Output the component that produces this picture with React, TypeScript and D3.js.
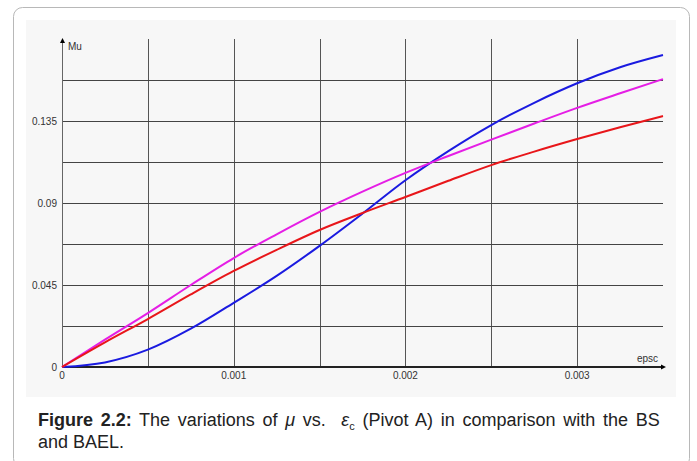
import React from 'react';
import { scaleLinear, line, curveMonotoneX } from 'd3';

const epsc = [0, 0.00025, 0.0005, 0.00075, 0.001, 0.00125, 0.0015, 0.00175, 0.002, 0.00225, 0.0025, 0.00275, 0.003, 0.00325, 0.0035];
const muBlue = [0, 0.0025, 0.0095, 0.021, 0.0352, 0.050, 0.0665, 0.0842, 0.1025, 0.1185, 0.1328, 0.1450, 0.1557, 0.1645, 0.1712];
const muMagenta = [0, 0.0150, 0.0296, 0.0450, 0.0598, 0.0728, 0.0851, 0.0962, 0.1065, 0.1158, 0.1248, 0.1336, 0.1422, 0.1502, 0.158];
const muRed = [0, 0.0135, 0.0263, 0.0398, 0.0527, 0.0643, 0.0752, 0.0845, 0.0933, 0.1022, 0.1108, 0.1182, 0.1251, 0.1316, 0.1377];

const xTicks = [0, 0.001, 0.002, 0.003];
const yTicks = [0, 0.045, 0.09, 0.135];
const xGrid = [0.0005, 0.001, 0.0015, 0.002, 0.0025, 0.003];
const yGrid = [0.0225, 0.045, 0.0675, 0.09, 0.1125, 0.135, 0.1575];

const series = [
  { name: 'blue', values: muBlue, color: '#1a1ae0' },
  { name: 'magenta', values: muMagenta, color: '#e51ee5' },
  { name: 'red', values: muRed, color: '#e8161a' },
];

const App: React.FC = () => {
  const x = scaleLinear().domain([0, 0.0035]).range([62, 663]);
  const y = scaleLinear().domain([0, 0.18]).range([367, 39]);

  const myLine = line<number>()
    .x((d, i) => x(epsc[i]))
    .y(d => y(d))
    .curve(curveMonotoneX);

  const font = 'Arial, "Liberation Sans", sans-serif';

  return (
    <svg width={697} height={461} style={{ position: 'absolute', left: 0, top: 0 }}>
      <rect x={13.5} y={7.5} width={676} height={460} rx={9} fill="#fff" stroke="#b8b8b8" />
      <rect x={26} y={20} width={650} height={377} fill="#f7f7f7" />

      {xGrid.map(t => (
        <line key={'vx' + t} x1={Math.round(x(t)) + 0.5} x2={Math.round(x(t)) + 0.5} y1={y(0.18)} y2={y(0)} stroke="#555" />
      ))}
      {yGrid.map(t => (
        <line key={'hy' + t} x1={x(0)} x2={663} y1={Math.round(y(t)) + 0.5} y2={Math.round(y(t)) + 0.5} stroke="#444" />
      ))}

      <line x1={62.5} x2={62.5} y1={y(0)} y2={y(0.18) + 2} stroke="#666" />
      <path d={`M62.5,${y(0.18) - 1} l-2.5,5 h5 z`} fill="#000" />
      <line x1={62} x2={662} y1={367} y2={367} stroke="#222" strokeWidth={2} />
      <path d={`M666,367 l-5,-2.5 v5 z`} fill="#000" />

      {series.map(s => (
        <path key={s.name} d={myLine(s.values) || ''} fill="none" stroke={s.color} strokeWidth={2} />
      ))}

      {yTicks.map(t => (
        <text key={'yt' + t} x={57} y={y(t) + 3.5} textAnchor="end" fontSize={10} fontFamily={font} fill="#333">{t}</text>
      ))}
      {xTicks.map(t => (
        <text key={'xt' + t} x={x(t)} y={379} textAnchor="middle" fontSize={10} fontFamily={font} fill="#333">{t}</text>
      ))}
      <text x={68} y={49.5} fontSize={10} fontFamily={font} fill="#333">Mu</text>
      <text x={658} y={362} textAnchor="end" fontSize={10} fontFamily={font} fill="#333">epsc</text>

      <text x={38} y={426} fontSize={18} fontFamily={font} fill="#222" wordSpacing={2.7} style={{ whiteSpace: 'pre' }}>
        <tspan fontWeight="bold">Figure 2.2:</tspan>
        <tspan> The variations of </tspan>
        <tspan fontStyle="italic">μ</tspan>
        <tspan> vs.  </tspan>
        <tspan fontStyle="italic">ε</tspan>
        <tspan fontSize={11} dy={4}>c</tspan>
        <tspan dy={-4}> (Pivot A) in comparison with the BS</tspan>
      </text>
      <text x={38} y={448} fontSize={18} fontFamily={font} fill="#222">and BAEL.</text>
    </svg>
  );
};

export default App;
